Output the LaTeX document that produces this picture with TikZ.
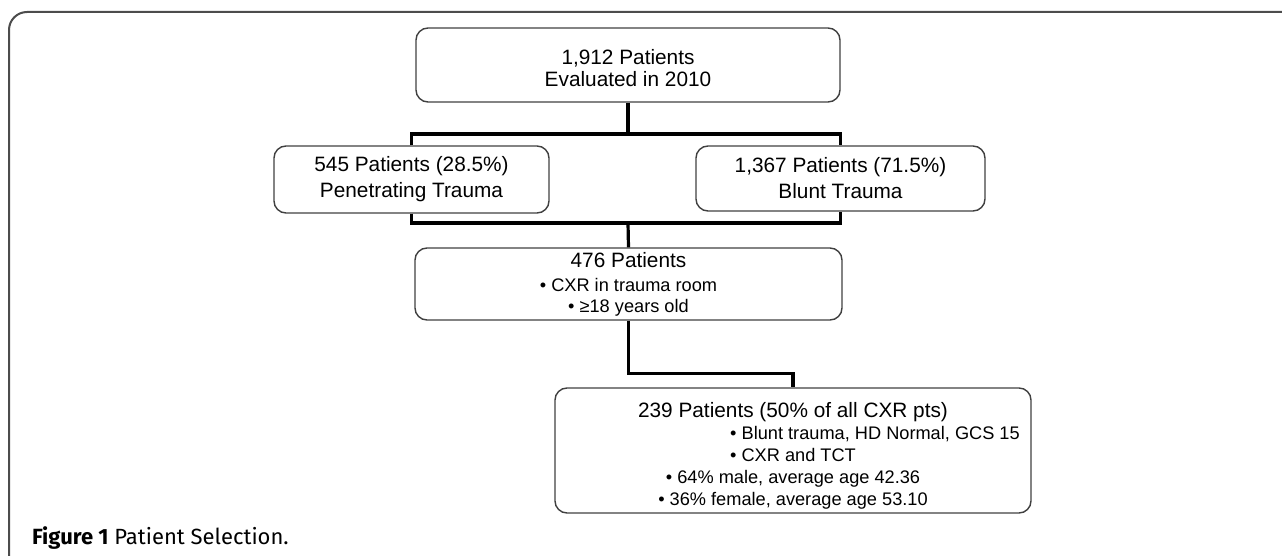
\documentclass[tikz,border=0pt]{standalone}
\usepackage{fontspec}
\setmainfont{Liberation Sans}
\newfontfamily\capfont{Fira Sans}
\usepackage{tikz}
\usetikzlibrary{calc}

\begin{document}
\begin{tikzpicture}[x=0.5pt,y=-0.5pt,
    stage/.style={draw=black!75,line width=0.7pt,rounded corners=6pt,align=center,
      inner sep=0pt,font=\fontsize{10.4}{13}\selectfont},
    link/.style={line width=1.6pt},
    frame/.style={draw=black!70,line width=1pt}]
    \useasboundingbox (0,0) rectangle (1282,556);
    \draw [frame] (9,600) [rounded corners=9pt] -- (9,12) -- (1300,12);
    \node [stage,minimum width=212pt,minimum height=37pt,font=\fontsize{10.4}{11}\selectfont]
      (all) at (628,65) {\rule{0pt}{11pt}1,912 Patients\\Evaluated in 2010};
    \node [stage,minimum width=137.5pt,minimum height=33.5pt] (pen) at (411.5,179.5)
      {545 Patients (28.5\%)\\Penetrating Trauma};
    \node [stage,minimum width=144.5pt,minimum height=32.5pt] (blunt) at (840.5,178.5)
      {1,367 Patients (71.5\%)\\Blunt Trauma};
    \node [stage,minimum width=213.5pt,minimum height=36pt,font=\fontsize{9.1}{10.5}\selectfont]
      (cxr) at (628.5,284)
      {{\fontsize{10.4}{13}\selectfont 476 Patients}\\[1.5pt]• CXR in trauma room\\• ≥18 years old};
    \node [stage,minimum width=238pt,minimum height=62.5pt,font=\fontsize{9.1}{11}\selectfont]
      (tct) at (793,450.5)
      {\rule{0pt}{12.5pt}{\fontsize{10.4}{13}\selectfont 239 Patients (50\% of all CXR pts)}\\
       \hspace*{82pt}• Blunt trauma, HD Normal, GCS 15\\• CXR and TCT\\
       • 64\% male, average age 42.36\\• 36\% female, average age 53.10};
    \coordinate (split) at (628,134);
    \coordinate (merge) at (628,223);
    \draw [link] (all.south) -- (split);
    \draw [link] (pen.north) |- (split) -| (blunt.north);
    \draw [link] (pen.south) |- (merge) -| (blunt.south);
    \draw [link] (merge) -- (cxr.north);
    \draw [link] (cxr.south) -- ++(0,53) -| (tct.north);
    \node [anchor=base west,font=\capfont\fontsize{11}{13}\selectfont] (caption) at (25,544)
      {\textbf{Figure 1} Patient Selection.};
  \end{tikzpicture}
\end{document}
